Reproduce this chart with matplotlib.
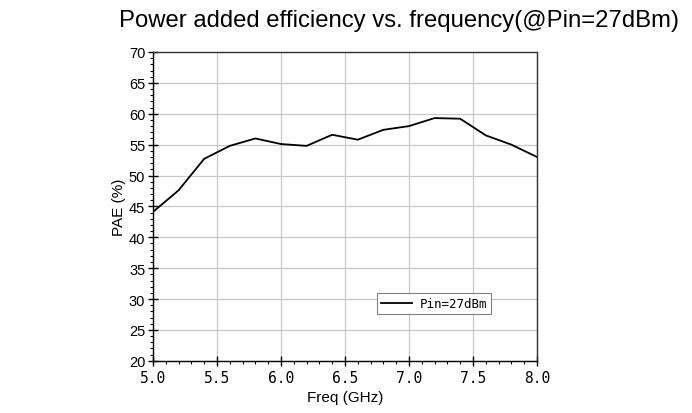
import matplotlib
matplotlib.use('Agg')
from matplotlib import pyplot as plt
from matplotlib.ticker import MultipleLocator, FixedLocator, FixedFormatter

# PAE sweep at Pin=27dBm
freq = [5.0, 5.2, 5.4, 5.6, 5.8, 6.0, 6.2, 6.4, 6.6, 6.8, 7.0, 7.2, 7.4, 7.6, 7.8, 8.0]
pae = [44.1, 47.6, 52.7, 54.8, 56.0, 55.1, 54.8, 56.6, 55.8, 57.4, 58.0, 59.3, 59.2, 56.5, 55.0, 53.0]

xticks = [5.0, 5.5, 6.0, 6.5, 7.0, 7.5, 8.0]
xtick_labels = ['5.0', '5.5', '6.0', '6.5', '7.0', '7.5', '8.0']
yticks = [20, 25, 30, 35, 40, 45, 50, 55, 60, 65, 70]

plt.rcParams['font.family'] = ['Liberation Sans', 'DejaVu Sans']

fig = plt.figure(figsize=(6.92, 4.14), dpi=100)
ax = fig.add_axes([0.221, 0.126, 0.555, 0.746])

ax.plot(freq, pae, color='black', lw=1.3, label='Pin=27dBm')

ax.set_xlim(5.0, 8.0)
ax.set_ylim(20, 70)
ax.xaxis.set_major_locator(FixedLocator(xticks))
ax.xaxis.set_major_formatter(FixedFormatter(xtick_labels))
ax.xaxis.set_minor_locator(MultipleLocator(0.1))
ax.yaxis.set_major_locator(FixedLocator(yticks))
ax.yaxis.set_minor_locator(MultipleLocator(1))
ax.tick_params(which='major', direction='inout', length=7, width=1, labelsize=10.5)
ax.tick_params(which='minor', direction='out', length=2.5, width=0.8)
ax.tick_params(axis='x', pad=3)
ax.tick_params(axis='y', pad=2)
for lab in ax.get_xticklabels():
    lab.set_family('DejaVu Sans Mono')
    lab.set_fontsize(10.5)

ax.grid(True, which='major', color='#c8c8c8', lw=0.9)
for sp in ax.spines.values():
    sp.set_linewidth(1.0)
ax.spines['top'].set_color('#333333')
ax.spines['right'].set_color('#333333')

ax.set_xlabel('Freq (GHz)', fontsize=11, labelpad=4)
ax.set_ylabel('PAE (%)', fontsize=11, labelpad=2)

leg = ax.legend(loc='lower left', bbox_to_anchor=(0.583, 0.152), fancybox=False,
                framealpha=1, edgecolor='#808080', borderpad=0.3, handlelength=2.5,
                handletextpad=0.6, borderaxespad=0,
                prop={'family': 'DejaVu Sans Mono', 'size': 9})
leg.get_frame().set_linewidth(0.8)

fig.text(0.577, 0.95, 'Power added efficiency vs. frequency(@Pin=27dBm)',
         ha='center', va='center', fontsize=17.2)

fig.savefig('out.png', dpi=100)
